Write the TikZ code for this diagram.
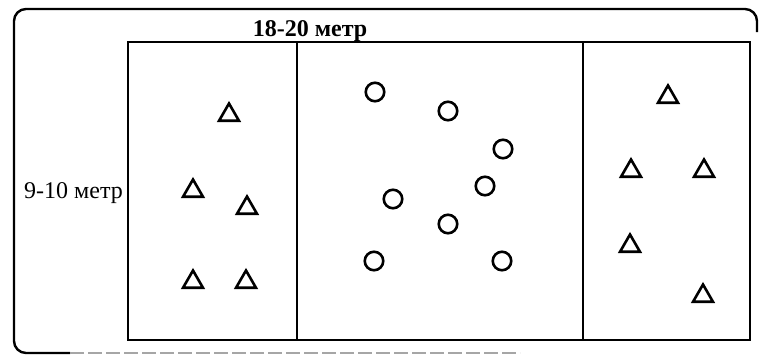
\documentclass[tikz,border=0pt]{standalone}
\usepackage{fontspec}
\setmainfont{Liberation Serif}
\usetikzlibrary{shapes.geometric}
\begin{document}
\begin{tikzpicture}[x=1pt,y=-1pt,
  tri/.style={draw, regular polygon, regular polygon sides=3, minimum size=23pt, inner sep=0pt, line width=2.6pt},
  circ/.style={draw, circle, minimum size=18.5pt, inner sep=0pt, line width=2.6pt},
  frame/.style={line width=2.4pt},
  field/.style={line width=2.5pt},
  lbl/.style={font=\fontsize{24}{24}\selectfont, inner sep=0pt, anchor=base}]
\useasboundingbox (0,0) rectangle (760,359);
% outer scanned frame
\draw[frame, rounded corners=12pt] (757,32) -- (757,9) -- (14,9) -- (14,353) -- (70,353);
\draw[line width=1.6pt, gray!70, dash pattern=on 14pt off 4pt] (70,353) -- (520,353);
% field
\coordinate (fNW) at (128,42);
\coordinate (fSE) at (750,340);
\draw[field] (fNW) rectangle (fSE);
\draw[field] (297,42) -- (297,340);
\draw[field] (583,42) -- (583,340);
% labels
\node[lbl, font=\bfseries\fontsize{24}{24}\selectfont] (top) at (310,36) {18-20 метр};
\node[lbl] (side) at (73.5,198) {9-10 метр};
% left zone triangles
\node[tri] (l1) at (229,115) {};
\node[tri] (l2) at (193,191) {};
\node[tri] (l3) at (247,208) {};
\node[tri] (l4) at (193,282) {};
\node[tri] (l5) at (246,282) {};
% middle zone circles
\node[circ] (c1) at (375,92) {};
\node[circ] (c2) at (448,111) {};
\node[circ] (c3) at (503,149) {};
\node[circ] (c4) at (485,186) {};
\node[circ] (c5) at (393,199) {};
\node[circ] (c6) at (448,224) {};
\node[circ] (c7) at (374,261) {};
\node[circ] (c8) at (502,261) {};
% right zone triangles
\node[tri] (r1) at (668,97) {};
\node[tri] (r2) at (631,171) {};
\node[tri] (r3) at (704,171) {};
\node[tri] (r4) at (630,246) {};
\node[tri] (r5) at (703,296) {};
\end{tikzpicture}
\end{document}
